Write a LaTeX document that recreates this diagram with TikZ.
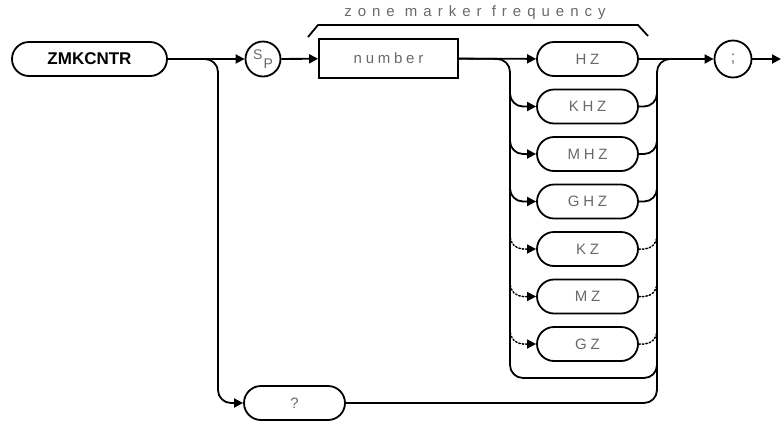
\documentclass[tikz,border=0pt]{standalone}
\usepackage{fontspec}
\setmainfont{Liberation Sans}
\newfontfamily\spacedfont[LetterSpace=25]{Liberation Sans}
\newfontfamily\widefont[LetterSpace=40]{Liberation Sans}
\usetikzlibrary{arrows.meta}
\definecolor{txtgrey}{RGB}{105,105,105}
\tikzset{
  conn/.style={line width=1.8pt, line join=round},
  arr/.style={conn, -{Triangle[length=9pt,width=9pt]}},
  rbox/.style={draw, line width=1.8pt, rounded corners=17pt, minimum width=101pt, minimum height=34pt, inner sep=0pt, text=txtgrey, font=\fontsize{15}{15}\spacedfont},
  sqbox/.style={draw, line width=1.8pt, minimum width=139pt, minimum height=39pt, inner sep=0pt, text=txtgrey, font=\fontsize{15}{15}\spacedfont},
  circ/.style={draw, circle, line width=1.8pt, minimum size=35pt, inner sep=0pt, text=txtgrey},
  dotc/.style={line width=1.5pt, dotted, line cap=round},
  dotarr/.style={dotc, -{Triangle[length=9pt,width=9pt]}},
}
\begin{document}
\begin{tikzpicture}[x=1pt,y=-1pt]
\useasboundingbox (0,0) rectangle (781,424);
% nodes
\node[rbox, minimum width=155pt, text=black, font=\fontsize{17}{17}\selectfont\bfseries] (zm) at (89.5,59) {ZMKCNTR};
\node[circ] (sp) at (263,59) {\fontsize{14}{14}\selectfont\raisebox{4pt}{S}\kern1pt\raisebox{-5pt}{P}};
\node[sqbox] (num) at (388.5,58.5) {number};
\node[rbox] (hz) at (587.5,59) {HZ};
\node[rbox] (khz) at (587.5,106.5) {KHZ};
\node[rbox] (mhz) at (587.5,154) {MHZ};
\node[rbox] (ghz) at (587.5,201.5) {GHZ};
\node[rbox] (kz) at (587.5,249) {KZ};
\node[rbox] (mz) at (587.5,296.5) {MZ};
\node[rbox] (gz) at (587.5,344) {GZ};
\node[rbox] (q) at (294.5,403) {?};
\node[circ, minimum size=37pt] (semi) at (733,59) {\fontsize{16}{16}\selectfont;};
\coordinate (endp) at (781,59);
\coordinate (bl) at (510,378);
\coordinate (br) at (657,378);
% brace label
\draw[conn] (308,37) -- (318,25) -- (638,25) -- (648,36);
\node[text=txtgrey, font=\fontsize{15}{15}\widefont] (lbl) at (475,13) {zone marker frequency};
% main line
\draw[arr] (zm) -- (sp);
\draw[arr] (sp) -- (num);
\draw[arr] (num) -- (hz);
\draw[arr] (hz) -- (semi);
\draw[arr] (semi) -- (endp);
% query branch
\draw[arr, rounded corners=13pt] (zm.east) -- (218,59) -- (218,403) -- (q.west);
\draw[conn, rounded corners=13pt] (q.east) -- (657,403) -- (657,59) -- (685,59);
% left/right verticals with bypass loop
\draw[conn, rounded corners=13pt] (num.east) -- (510,59) -- (bl) -- (br) -- (657,350);
% solid unit branches
\foreach \b in {khz,mhz,ghz}{
  \draw[arr, rounded corners=13pt] (\b.west -| 510,0) ++(0,-25) -- (\b.west -| 510,0) -- (\b.west);
  \draw[conn, rounded corners=13pt] (\b.east) -- (\b.east -| 657,0) -- ++(0,-25);
}
% dotted unit branches
\foreach \b in {kz,mz,gz}{
  \draw[dotarr, rounded corners=13pt] (\b.west -| 510,0) ++(0,-25) -- (\b.west -| 510,0) -- (\b.west);
  \draw[dotc, rounded corners=13pt] (\b.east) -- (\b.east -| 657,0) -- ++(0,-25);
}
\end{tikzpicture}
\end{document}
